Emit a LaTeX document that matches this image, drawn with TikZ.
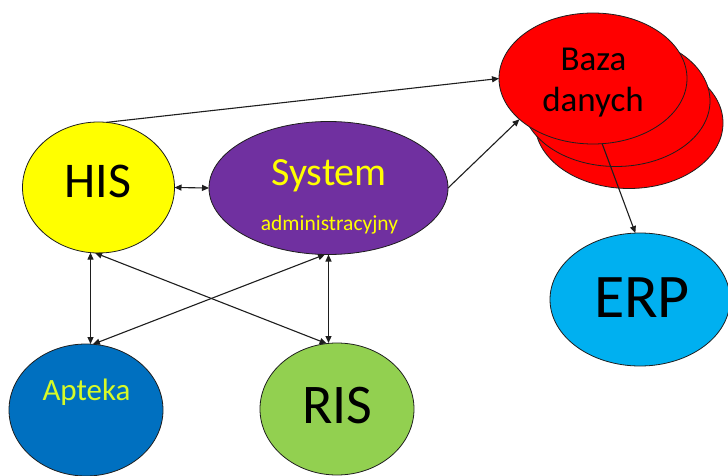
\documentclass[tikz,border=0pt]{standalone}
\usepackage{fontspec}
\setmainfont{Carlito}
\usetikzlibrary{shapes.geometric,arrows.meta}
\definecolor{hisyellow}{RGB}{255,255,0}
\definecolor{syspurple}{RGB}{112,48,160}
\definecolor{dbred}{RGB}{255,0,0}
\definecolor{erpblue}{RGB}{0,176,240}
\definecolor{aptblue}{RGB}{0,112,192}
\definecolor{risgreen}{RGB}{146,208,80}
\definecolor{apttext}{RGB}{214,250,40}
\definecolor{edge}{RGB}{30,30,30}

\begin{document}
\begin{tikzpicture}[x=1pt,y=-1pt,
  sysnode/.style={ellipse, draw=edge, line width=0.8pt, inner sep=0pt, outer sep=0pt},
  lbl/.style={anchor=base, inner sep=0pt},
  link/.style={draw=edge, line width=1.1pt, -{Triangle[length=7pt,width=6pt]}},
  duallink/.style={draw=edge, line width=1.1pt, {Triangle[length=7pt,width=6pt]}-{Triangle[length=7pt,width=6pt]}}
]
\useasboundingbox[fill=white] (0,0) rectangle (728,476);

% database stack (back to front)
\node[sysnode, fill=dbred, minimum width=188pt, minimum height=131pt] (baza3) at (629,123) {};
\node[sysnode, fill=dbred, minimum width=188pt, minimum height=131pt] (baza2) at (616,101) {};
\node[sysnode, fill=dbred, minimum width=188pt, minimum height=131pt] (baza) at (593,78.5) {};

% systems
\node[sysnode, fill=hisyellow, minimum width=152pt, minimum height=131pt] (his) at (98.5,187.5) {};
\node[sysnode, fill=syspurple, minimum width=239pt, minimum height=133pt] (sys) at (328.5,188) {};
\node[sysnode, fill=erpblue, minimum width=180pt, minimum height=133pt] (erp) at (640,299.5) {};
\node[sysnode, fill=aptblue, minimum width=154pt, minimum height=132pt] (apteka) at (86,410) {};
\node[sysnode, fill=risgreen, minimum width=154pt, minimum height=132pt] (ris) at (337,409) {};

% labels
\node[lbl, font=\fontsize{50}{50}\selectfont] (hislbl) at (98,197) {HIS};
\node[lbl, text=hisyellow, font=\fontsize{40}{40}\selectfont] (syslbl) at (329,185) {System};
\node[lbl, text=hisyellow, font=\fontsize{21.5}{21.5}\selectfont] (syssub) at (329.5,230) {administracyjny};
\node[lbl, text=apttext, font=\fontsize{31}{31}\selectfont] (aptlbl) at (86.5,400) {Apteka};
\node[lbl, font=\fontsize{56}{56}\selectfont] (rislbl) at (337.5,423) {RIS};
\node[lbl, font=\fontsize{62}{62}\selectfont] (erplbl) at (642,317) {ERP};
\node[lbl, font=\fontsize{35}{35}\selectfont] (bazalbl) at (593.5,71) {Baza};
\node[lbl, font=\fontsize{35}{35}\selectfont] (danlbl) at (593,112) {danych};

% connections
\draw[link] (his.83) -- (baza.west);
\draw[duallink] (his.east) -- (sys.west);
\draw[link] (sys.east) -- (baza.-151);
\draw[link] (baza.-82) -- (erp.94);
\draw[duallink] (his.-97) -- (his.-97 |- apteka.north);
\draw[duallink] (his.-93) -- (ris.99);
\draw[duallink] (sys.-93) -- (apteka.84);
\draw[duallink] (sys.south) -- (sys.south |- ris.north);
\end{tikzpicture}
\end{document}
